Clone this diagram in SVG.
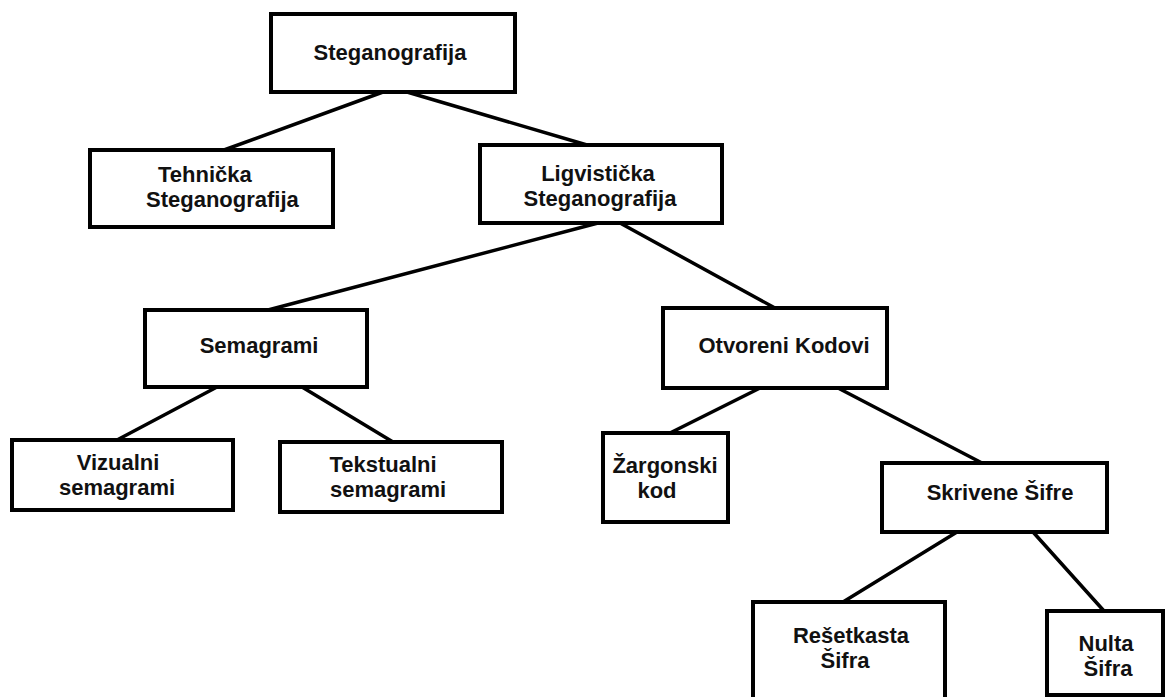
<svg xmlns="http://www.w3.org/2000/svg" width="1165" height="697" viewBox="0 0 1165 697">
<style>
.box{fill:#fff;stroke:#000;stroke-width:4}
.t{font-family:"Liberation Sans",Arial,sans-serif;font-weight:bold;font-size:22px;fill:#111}
.c{text-anchor:middle}
#connectors line{stroke:#000;stroke-width:3.5;stroke-linecap:round}
</style>
<rect width="1165" height="697" fill="#fff"/>
<g id="connectors">
<line x1="383" y1="92" x2="224" y2="150"/>
<line x1="407" y1="92" x2="587" y2="145"/>
<line x1="598" y1="223" x2="268" y2="310"/>
<line x1="620" y1="223" x2="775" y2="308"/>
<line x1="217" y1="387" x2="117" y2="440"/>
<line x1="302" y1="387" x2="393" y2="442"/>
<line x1="760" y1="388" x2="670" y2="433"/>
<line x1="838" y1="388" x2="982" y2="463"/>
<line x1="957" y1="532" x2="843" y2="602"/>
<line x1="1033" y1="532" x2="1104" y2="611"/>
</g>
<g id="steganografija">
<rect class="box" x="271" y="14" width="244" height="78"/>
<text class="t c" x="390" y="60">Steganografija</text>
</g>
<g id="tehnicka">
<rect class="box" x="90" y="150" width="243" height="77"/>
<text class="t" x="158" y="182">Tehnička</text>
<text class="t" x="146" y="207">Steganografija</text>
</g>
<g id="ligvisticka">
<rect class="box" x="480" y="145" width="242" height="78"/>
<text class="t c" x="598" y="181">Ligvistička</text>
<text class="t c" x="600" y="206">Steganografija</text>
</g>
<g id="semagrami">
<rect class="box" x="145" y="310" width="222" height="77"/>
<text class="t c" x="259" y="353">Semagrami</text>
</g>
<g id="otvoreni">
<rect class="box" x="663" y="308" width="224" height="80"/>
<text class="t c" x="784" y="353">Otvoreni Kodovi</text>
</g>
<g id="vizualni">
<rect class="box" x="12" y="440" width="221" height="70"/>
<text class="t c" x="118" y="470">Vizualni</text>
<text class="t c" x="117" y="495">semagrami</text>
</g>
<g id="tekstualni">
<rect class="box" x="280" y="442" width="222" height="70"/>
<text class="t c" x="383" y="472">Tekstualni</text>
<text class="t c" x="388" y="497">semagrami</text>
</g>
<g id="zargonski">
<rect class="box" x="603" y="433" width="125" height="89"/>
<text class="t c" x="665" y="473">Žargonski</text>
<text class="t c" x="657" y="498">kod</text>
</g>
<g id="skrivene">
<rect class="box" x="882" y="463" width="225" height="69"/>
<text class="t c" x="1000" y="500">Skrivene Šifre</text>
</g>
<g id="resetkasta">
<rect class="box" x="753" y="602" width="192" height="102"/>
<text class="t c" x="851" y="643">Rešetkasta</text>
<text class="t c" x="845" y="668">Šifra</text>
</g>
<g id="nulta">
<rect class="box" x="1047" y="611" width="116" height="84"/>
<text class="t c" x="1106" y="651">Nulta</text>
<text class="t c" x="1108" y="676">Šifra</text>
</g>
</svg>
